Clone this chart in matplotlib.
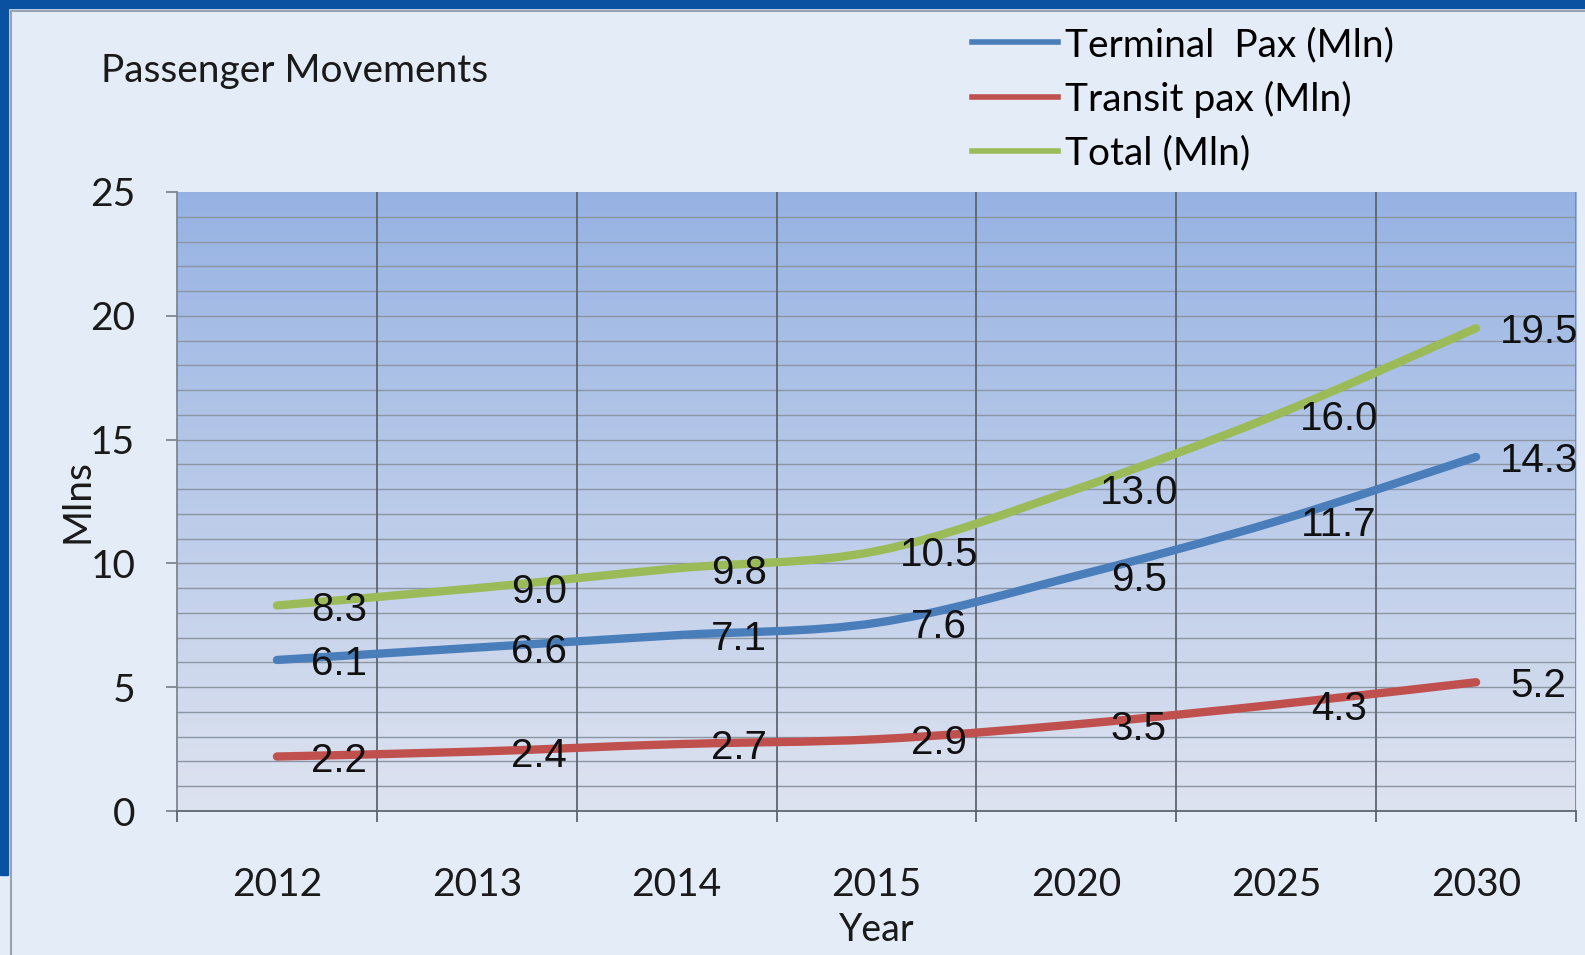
import numpy as np
import matplotlib.pyplot as plt
from matplotlib.path import Path
from matplotlib.patches import PathPatch, Rectangle
from matplotlib.lines import Line2D

# data
years = ['2012', '2013', '2014', '2015', '2020', '2025', '2030']
terminal = [6.1, 6.6, 7.1, 7.6, 9.5, 11.7, 14.3]
transit = [2.2, 2.4, 2.7, 2.9, 3.5, 4.3, 5.2]
total = [8.3, 9.0, 9.8, 10.5, 13.0, 16.0, 19.5]

series_names = ['Terminal  Pax (Mln)', 'Transit pax (Mln)', 'Total (Mln)']
series_values = [terminal, transit, total]
series_colors = ['#4a7ebb', '#c0504d', '#9bbb59']

W, H = 1585, 955
fig = plt.figure(figsize=(W / 100, H / 100), dpi=100)
fig.patch.set_facecolor('#e4edf7')

# blue frame of the slide (top and left) and thin inner border
fig.patches.append(Rectangle((0, 1 - 8 / H), 1, 8 / H, transform=fig.transFigure,
                             color='#0a51a1', zorder=0))
fig.patches.append(Rectangle((0, 80 / H), 8 / W, 1 - 80 / H, transform=fig.transFigure,
                             color='#0a51a1', zorder=0))
fig.add_artist(Line2D([11 / W, 11 / W], [0, 1 - 11 / H], transform=fig.transFigure,
                      color='#9aa3ad', lw=1.5))
fig.add_artist(Line2D([11 / W, 1], [1 - 11 / H, 1 - 11 / H], transform=fig.transFigure,
                      color='#9aa3ad', lw=1.5))

ax = fig.add_axes([177 / W, 1 - 811 / H, (1576 - 177) / W, (811 - 192) / H])
ax.set_facecolor('none')

x = np.arange(len(years))
ax.set_xlim(-0.5, len(years) - 0.5)

# gradient plot background, darker blue at the top
grad = np.linspace(0, 1, 256).reshape(-1, 1)
top_c = np.array([0.59, 0.70, 0.89])
bot_c = np.array([0.87, 0.89, 0.94])
img = top_c * (1 - grad[..., None]) + bot_c * grad[..., None]
img = img.reshape(256, 1, 3)
ax.imshow(img, extent=(-0.5, len(years) - 0.5, 0, 25), aspect='auto', zorder=0)
ax.set_ylim(0, 25)

# gridlines
for yv in range(1, 25):
    ax.axhline(yv, color='#8c96a2', lw=1.0, zorder=1)
for xv in np.arange(0.5, len(years) - 0.5):
    ax.axvline(xv, color='#5c6570', lw=1.3, zorder=1)
ax.axvline(len(years) - 0.5, color='#7d8792', lw=1.3, zorder=1)


def smooth_path(xs, ys):
    # Excel-style smoothed line: cubic Bezier through points
    pts = np.column_stack([xs, ys]).astype(float)
    n = len(pts)
    verts = [pts[0]]
    codes = [Path.MOVETO]
    for i in range(n - 1):
        p0 = pts[max(i - 1, 0)]
        p1 = pts[i]
        p2 = pts[i + 1]
        p3 = pts[min(i + 2, n - 1)]
        c1 = p1 + (p2 - p0) / 6
        c2 = p2 - (p3 - p1) / 6
        verts += [c1, c2, p2]
        codes += [Path.CURVE4] * 3
    return Path(verts, codes)


for vals, col in zip(series_values, series_colors):
    patch = PathPatch(smooth_path(x, vals), facecolor='none', edgecolor=col,
                      lw=6, capstyle='round', zorder=3)
    ax.add_patch(patch)
    for xi, v in zip(x, vals):
        ax.annotate('%.1f' % v, (xi, v), xytext=(45, -3), textcoords='offset points',
                    ha='center', va='center', fontsize=29, color='#111111',
                    family='Liberation Sans', zorder=4)

# axes styling
for s in ['top', 'right']:
    ax.spines[s].set_visible(False)
ax.spines['left'].set_color('#7d8792')
ax.spines['bottom'].set_color('#5c6570')
ax.spines['left'].set_linewidth(1.3)
ax.spines['bottom'].set_linewidth(1.3)
ax.set_yticks(range(0, 26, 5))
ax.set_xticks(np.arange(-0.5, len(years)), minor=False)
ax.set_xticklabels([])
ax.set_xticks(x, minor=True)
ax.set_xticklabels(years, minor=True)
ax.tick_params(axis='x', which='major', length=8, width=1.3, color='#5c6570', direction='out')
ax.tick_params(axis='x', which='minor', length=0, pad=40, labelsize=28, labelcolor='#1a1a1a')
ax.tick_params(axis='y', length=8, width=1.3, color='#7d8792', direction='out',
               labelsize=28, labelcolor='#1a1a1a', pad=22)
for lab in ax.get_xticklabels(minor=True) + ax.get_yticklabels():
    lab.set_family('Lato')

ax.set_xlabel('Year', fontsize=27, family='Lato', color='#1a1a1a', labelpad=7)
ax.set_ylabel('Mlns', fontsize=28, family='Lato', color='#1a1a1a', labelpad=-4)

fig.text(101 / W, 1 - 71 / H, 'Passenger Movements', fontsize=28, family='Lato',
         color='#1a1a1a', va='center', ha='left')

handles = [Line2D([], [], color=c, lw=4) for c in series_colors]
fig.legend(handles, series_names, loc='upper left', bbox_to_anchor=(937 / W, 1 + 8 / H),
           frameon=False, handlelength=2.2, handletextpad=0.2,
           labelspacing=0.45, prop={'family': 'Lato', 'size': 28})

fig.savefig('out.png', dpi=100, facecolor=fig.get_facecolor())
